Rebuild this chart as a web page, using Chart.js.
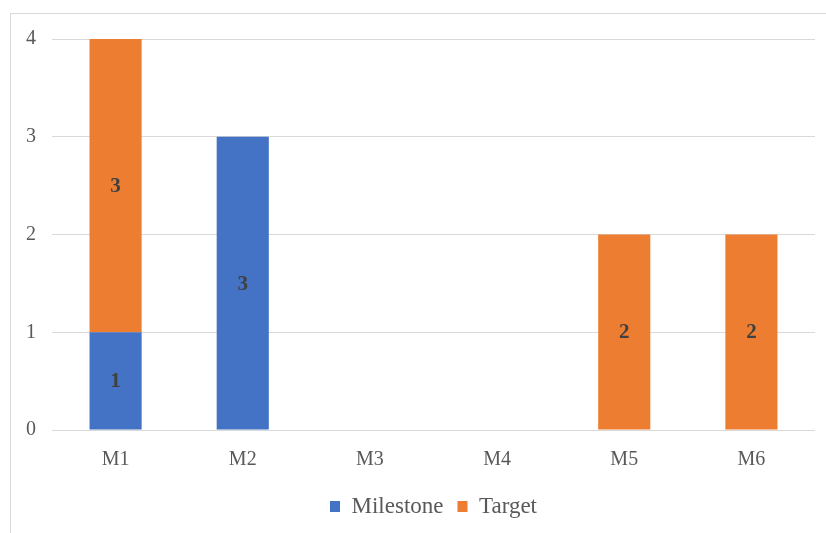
<!DOCTYPE html>
<html>
<head>
<meta charset="utf-8">
<script src="https://cdn.jsdelivr.net/npm/chart.js@4"></script>
<style>
    body { margin: 0; background: #fff; overflow: hidden; }
    #frame {
        position: absolute; left: 10px; top: 13px;
        width: 900px; height: 600px;
        border: 1px solid #d9d9d9;
    }
    #myChart { position: absolute; left: 0; top: 0; }
</style>
</head>
<body>
<div id="frame">
    <canvas id="myChart" width="816" height="519"></canvas>
</div>
<script>
// chart values
var categories = ['M1', 'M2', 'M3', 'M4', 'M5', 'M6'];
var milestoneValues = [1, 3, 0, 0, 0, 0];
var targetValues = [3, 0, 0, 0, 2, 2];
var yTicks = [0, 1, 2, 3, 4];

var serif = '"Liberation Serif", "Times New Roman", serif';

// labels in the middle of each bar segment
var barLabels = {
    id: 'barLabels',
    afterDatasetsDraw: function(chart) {
        var ctx = chart.ctx;
        ctx.save();
        ctx.font = 'bold 21px ' + serif;
        ctx.fillStyle = '#404040';
        ctx.textAlign = 'center';
        ctx.textBaseline = 'middle';
        chart.data.datasets.forEach(function(ds, i) {
            var meta = chart.getDatasetMeta(i);
            meta.data.forEach(function(bar, j) {
                var v = ds.data[j];
                if (!v) return;
                ctx.fillText(String(v), bar.x, (bar.y + bar.base) / 2 + 1);
            });
        });
        ctx.restore();
    }
};

function plotChart() {
    var ctx = document.getElementById('myChart').getContext('2d');
    var myChart = new Chart(ctx, {
        type: 'bar',
        data: {
            labels: categories,
            datasets: [{
                label: 'Milestone',
                data: milestoneValues,
                backgroundColor: '#4472C4',
                borderWidth: 0
            }, {
                label: 'Target',
                data: targetValues,
                backgroundColor: '#ED7D31',
                borderWidth: 0
            }]
        },
        options: {
            responsive: false,
            animation: false,
            layout: { padding: { top: 25, right: 12, left: 0, bottom: 5 } },
            datasets: {
                bar: { categoryPercentage: 1, barPercentage: 0.41 }
            },
            scales: {
                x: {
                    stacked: true,
                    grid: { display: false },
                    border: { display: false },
                    ticks: {
                        color: '#595959',
                        font: { family: serif, size: 20 },
                        padding: 10
                    },
                    afterFit: function(scale) { scale.height = 51; }
                },
                y: {
                    stacked: true,
                    min: 0,
                    max: 4,
                    afterBuildTicks: function(scale) {
                        scale.ticks = yTicks.map(function(v) { return { value: v }; });
                    },
                    grid: { color: '#d9d9d9', lineWidth: 1, drawTicks: false },
                    border: { display: false },
                    ticks: {
                        color: '#595959',
                        font: { family: serif, size: 20 },
                        padding: 16
                    },
                    afterFit: function(scale) {
                        scale.width = 41;
                        scale.paddingTop = 0;
                        scale.paddingBottom = 0;
                    }
                }
            },
            plugins: {
                legend: {
                    position: 'bottom',
                    fullSize: false, // centre under the plot area
                    labels: {
                        color: '#595959',
                        font: { family: serif, size: 23 },
                        boxWidth: 10,
                        boxHeight: 11,
                        padding: 14
                    }
                },
                tooltip: { enabled: false }
            }
        },
        plugins: [barLabels]
    });
    return myChart;
}

plotChart();
</script>
</body>
</html>
